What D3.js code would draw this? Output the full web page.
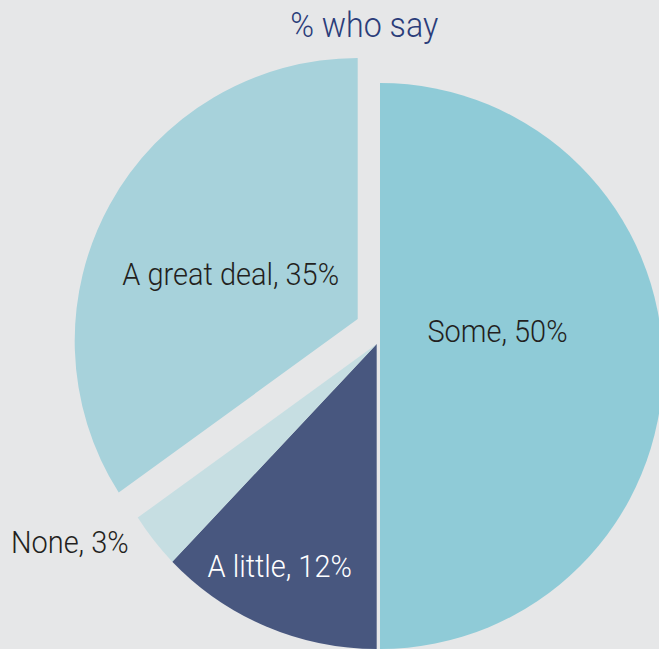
<!DOCTYPE html>
<html>
<head>
<meta charset="utf-8">
<script src="https://cdn.jsdelivr.net/npm/d3@7/dist/d3.min.js"></script>
<style>
  html, body { margin: 0; padding: 0; background: #e6e7e8; }
  svg { display: block; }
  text { font-family: Roboto, "Liberation Sans", sans-serif; font-weight: 300; }
</style>
</head>
<body>
<div id="chart"></div>
<script>
// Survey answers, in drawing order (clockwise from 12 o'clock)
const categories = ["Some", "A little", "None", "A great deal"];
const shares = [50, 12, 3, 35];
const sliceLabels = ["Some, 50%", "A little, 12%", "None, 3%", "A great deal, 35%"];
const title = "% who say";

const width = 659, height = 649;

// Layout and styling
const hub = { x: 378.3, y: 344 };   // point where the wedges meet
const drop = 22;                     // rim circle sits a little below the hub
const radius = 283;
const shift = {                      // exploded / separated wedges
  "Some": [1.7, 0],
  "A little": [-1.6, 0],
  "None": [-1.6, 0],
  "A great deal": [-20.6, -25]
};
const fills = {
  "Some": "#8fcbd7",
  "A little": "#48577f",
  "None": "#c6dee2",
  "A great deal": "#a7d2db"
};
const labelStyle = {
  "Some":         { r: 117.5, dx: 0,    dy: -2.5, anchor: "middle", color: "#231f20" },
  "A little":     { r: 250,   dx: -5,   dy: 0.5,  anchor: "middle", color: "#ffffff" },
  "None":         { r: 316,   dx: -11,  dy: 0,    anchor: "end",    color: "#231f20" },
  "A great deal": { r: 135,   dx: -6.7, dy: 27.5, anchor: "middle", color: "#231f20" }
};
const squeeze = 0.905; // condensed lettering

const svg = d3.select("#chart").append("svg")
  .attr("width", width).attr("height", height);

svg.append("rect").attr("width", width).attr("height", height).attr("fill", "#e6e7e8");

const pie = d3.pie().sort(null).value(d => d.value);
const slices = pie(categories.map((c, i) => ({ key: c, value: shares[i], label: sliceLabels[i] })));

// Wedge: straight sides leave the hub at the pie angles and meet the rim circle
function wedge(a0, a1, ox, oy) {
  const px = hub.x + ox, py = hub.y + oy;
  const qx = px, qy = py + drop;
  const hit = theta => {
    const ux = Math.sin(theta), uy = -Math.cos(theta);
    const wx = px - qx, wy = py - qy;
    const b = ux * wx + uy * wy;
    const c = wx * wx + wy * wy - radius * radius;
    const t = -b + Math.sqrt(b * b - c);
    return [px + t * ux, py + t * uy];
  };
  const e0 = hit(a0), e1 = hit(a1);
  const phi0 = Math.atan2(e0[1] - qy, e0[0] - qx);
  const phi1 = Math.atan2(e1[1] - qy, e1[0] - qx);
  const p = d3.path();
  p.moveTo(px, py);
  p.lineTo(e0[0], e0[1]);
  p.arc(qx, qy, radius, phi0, phi1, false);
  p.closePath();
  return p.toString();
}

svg.append("g").selectAll("path")
  .data(slices)
  .join("path")
  .attr("d", d => {
    const [ox, oy] = shift[d.data.key];
    return wedge(d.startAngle, d.endAngle, ox, oy);
  })
  .attr("fill", d => fills[d.data.key]);

// Slice labels
svg.append("g").selectAll("text")
  .data(slices)
  .join("text")
  .attr("transform", d => {
    const s = labelStyle[d.data.key];
    const [ox, oy] = shift[d.data.key];
    const mid = (d.startAngle + d.endAngle) / 2;
    const x = hub.x + ox + Math.sin(mid) * s.r + s.dx;
    const y = hub.y + oy - Math.cos(mid) * s.r + s.dy;
    return `translate(${x},${y}) scale(${squeeze},1)`;
  })
  .attr("text-anchor", d => labelStyle[d.data.key].anchor)
  .attr("font-size", 32)
  .attr("fill", d => labelStyle[d.data.key].color)
  .text(d => d.data.label);

// Heading
svg.append("text")
  .attr("transform", "translate(364.2,37) scale(0.92,1)")
  .attr("text-anchor", "middle")
  .attr("font-size", 35)
  .attr("fill", "#2b3d7a")
  .text(title);
</script>
</body>
</html>
